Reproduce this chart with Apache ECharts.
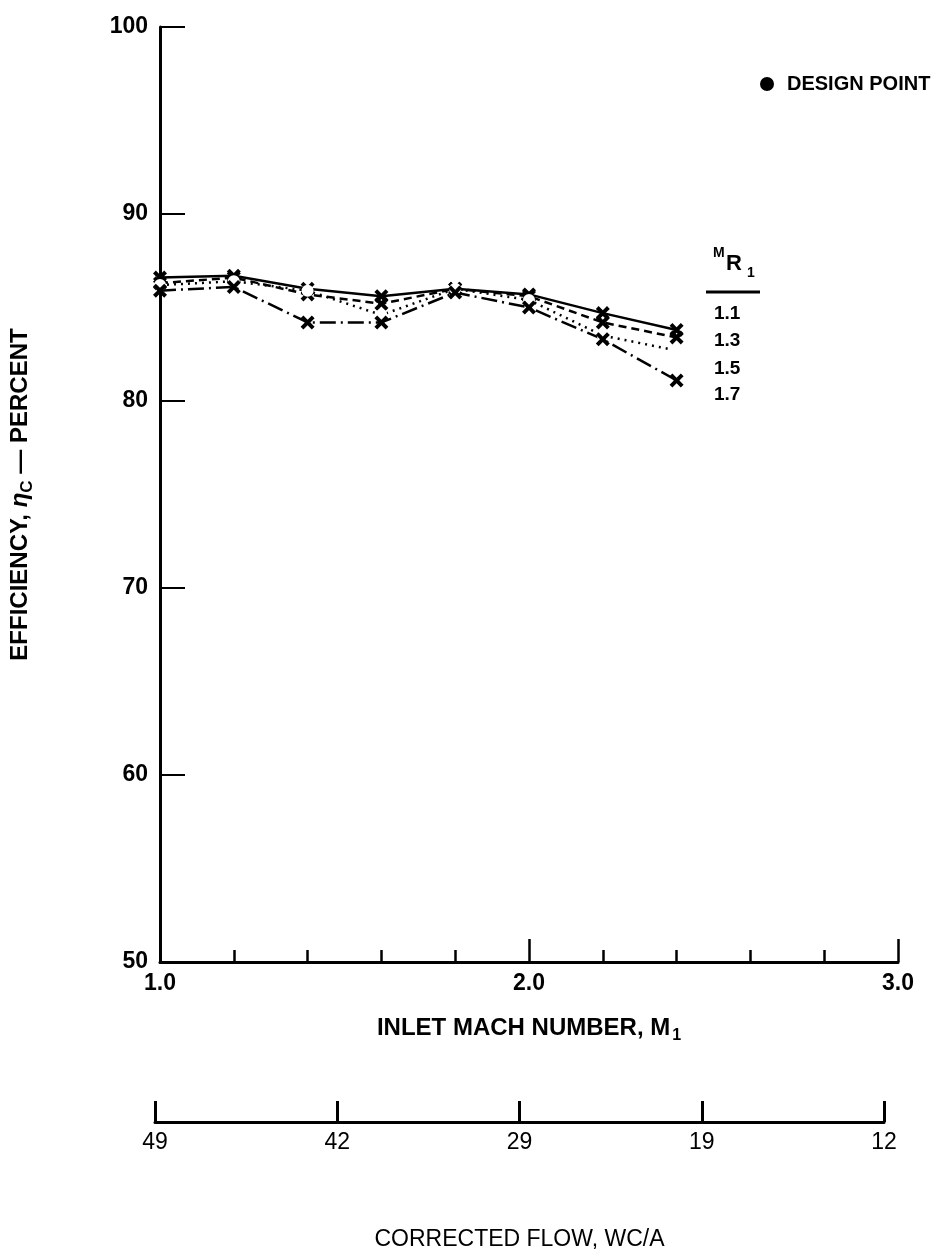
<!DOCTYPE html>
<html>
<head>
<meta charset="utf-8">
<script src="https://cdn.jsdelivr.net/npm/echarts@6/dist/echarts.min.js"></script>
<style>
html,body{margin:0;padding:0;background:#fff;}
#chart{width:947px;height:1256px;}
</style>
</head>
<body>
<div id="chart"></div>
<script>
// ---- data ----
const machNumbers = [1.0, 1.2, 1.4, 1.6, 1.8, 2.0, 2.2, 2.4];
const effMR11 = [86.6, 86.7, 86.0, 85.6, 86.0, 85.7, 84.7, 83.8];
const effMR13 = [86.3, 86.6, 85.7, 85.2, 86.0, 85.6, 84.2, 83.4];
const effMR15 = [86.2, 86.4, 85.9, 84.6, 86.0, 85.4, 83.5, 82.7];
const effMR17 = [85.9, 86.1, 84.2, 84.2, 85.8, 85.0, 83.3, 81.1];
const flowTickLabels = ['49', '42', '29', '19', '12'];
const mrLabels = ['1.1', '1.3', '1.5', '1.7'];

const FONT = '"Liberation Sans", Arial, sans-serif';
const xSym = 'path://M0,2 L2,0 L5,3 L8,0 L10,2 L7,5 L10,8 L8,10 L5,7 L2,10 L0,8 L3,5 Z';

function pairs(ys){ return machNumbers.map((x,i)=>[x, ys[i]]); }

function mkSeries(name, ys, lineType, symbol, size){
  return {
    name: name, type: 'line', xAxisIndex: 0, yAxisIndex: 0,
    data: pairs(ys),
    symbol: symbol, symbolSize: size,
    lineStyle: {color: '#000', width: 2.5, type: lineType},
    itemStyle: {color: symbol === 'emptyCircle' ? '#fff' : '#000', borderColor: '#000', borderWidth: symbol === 'emptyCircle' ? 2.5 : 0},
    z: 3
  };
}

const chart = echarts.init(document.getElementById('chart'), null, {renderer: 'canvas'});

const graphics = [
  {type: 'circle', shape: {cx: 767, cy: 84, r: 7}, style: {fill: '#000'}},
  {type: 'text', x: 787, y: 84, style: {text: 'DESIGN POINT', font: 'bold 20px ' + FONT, fill: '#000', verticalAlign: 'middle'}},
  {type: 'text', x: 713, y: 253, style: {text: 'M', font: 'bold 14px ' + FONT, fill: '#000', verticalAlign: 'middle'}},
  {type: 'text', x: 726, y: 264, style: {text: 'R', font: 'bold 22px ' + FONT, fill: '#000', verticalAlign: 'middle'}},
  {type: 'text', x: 747, y: 273, style: {text: '1', font: 'bold 14px ' + FONT, fill: '#000', verticalAlign: 'middle'}},
  {type: 'line', shape: {x1: 706, y1: 292, x2: 760, y2: 292}, style: {stroke: '#000', lineWidth: 3}}
];
const mrCenters = [314, 341, 369, 395];
mrLabels.forEach((t, i) => {
  graphics.push({type: 'text', x: 714, y: mrCenters[i], style: {text: t, font: 'bold 19px ' + FONT, fill: '#000', verticalAlign: 'middle'}});
});

const option = {
  backgroundColor: '#fff',
  animation: false,
  textStyle: {fontFamily: FONT},
  grid: [
    {left: 160, right: 49, top: 27, bottom: 294, containLabel: false},
    {left: 155, right: 63, top: 1000, height: 122, containLabel: false}
  ],
  xAxis: [
    {
      type: 'value', gridIndex: 0, min: 1, max: 3, interval: 1,
      axisLine: {show: true, lineStyle: {color: '#000', width: 3}},
      axisTick: {show: true, inside: true, length: 23, lineStyle: {color: '#000', width: 2.5}},
      minorTick: {show: true, splitNumber: 5, length: 12, lineStyle: {color: '#000', width: 2.5}},
      splitLine: {show: false},
      axisLabel: {color: '#000', fontSize: 23, fontWeight: 'bold', margin: 10,
        formatter: v => v.toFixed(1)},
      name: 'INLET MACH NUMBER, M{sub|1}', nameLocation: 'middle', nameGap: 50,
      nameTextStyle: {color: '#000', fontSize: 24, fontWeight: 'bold', fontFamily: FONT,
        rich: {sub: {fontSize: 16, fontWeight: 'bold', color: '#000', padding: [16, 0, 0, 2], fontFamily: FONT}}}
    },
    {
      type: 'value', gridIndex: 1, min: 0, max: 4, interval: 1,
      axisLine: {show: true, lineStyle: {color: '#000', width: 3}},
      axisTick: {show: true, inside: true, length: 21, lineStyle: {color: '#000', width: 3}},
      splitLine: {show: false},
      axisLabel: {color: '#000', fontSize: 23, margin: 9,
        formatter: v => flowTickLabels[Math.round(v)] || ''},
      name: 'CORRECTED FLOW, WC/A', nameLocation: 'middle', nameGap: 106,
      nameTextStyle: {color: '#000', fontSize: 23, fontFamily: FONT}
    }
  ],
  yAxis: [
    {
      type: 'value', gridIndex: 0, min: 50, max: 100, interval: 10,
      axisLine: {show: true, lineStyle: {color: '#000', width: 3}},
      axisTick: {show: true, inside: true, length: 25, lineStyle: {color: '#000', width: 2}},
      splitLine: {show: false},
      axisLabel: {color: '#000', fontSize: 23, fontWeight: 'bold', margin: 12},
      name: 'EFFICIENCY, {i|η}{sub|C} — PERCENT', nameLocation: 'middle', nameGap: 124,
      nameRotate: 90,
      nameTextStyle: {color: '#000', fontSize: 24, fontWeight: 'bold', fontFamily: FONT,
        rich: {i: {fontSize: 24, fontStyle: 'italic', color: '#000', fontFamily: FONT},
               sub: {fontSize: 17, fontWeight: 'bold', color: '#000', padding: [14, 0, 0, 0], fontFamily: FONT}}}
    },
    {type: 'value', gridIndex: 1, min: 0, max: 1, show: false}
  ],
  series: [
    mkSeries('1.1', effMR11, 'solid', xSym, 14),
    mkSeries('1.3', effMR13, [8, 5], xSym, 14),
    mkSeries('1.5', effMR15, [2, 5], 'emptyCircle', 10),
    mkSeries('1.7', effMR17, [16, 5, 2, 5], xSym, 14)
  ],
  graphic: graphics
};
chart.setOption(option);
</script>
</body>
</html>
